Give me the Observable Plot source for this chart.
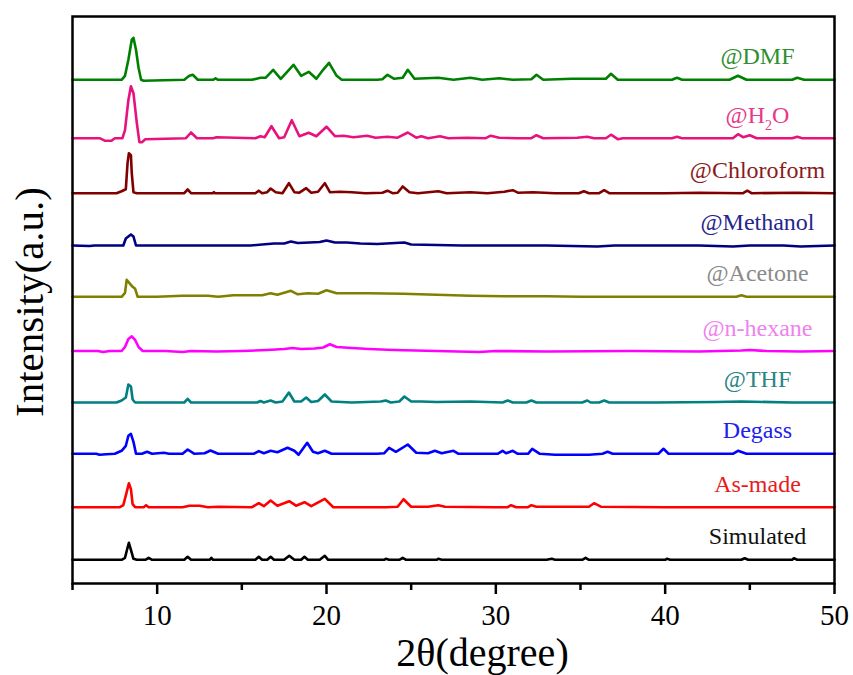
<!DOCTYPE html>
<html>
<head>
<meta charset="utf-8">
<script src="https://cdn.jsdelivr.net/npm/d3@7"></script>
<script src="https://cdn.jsdelivr.net/npm/@observablehq/plot@0.6"></script>
<style>
  html, body { margin: 0; padding: 0; background: #fff; }
  #chart { width: 853px; height: 675px; }
  #chart svg { overflow: visible; }
</style>
</head>
<body>
<div id="chart"></div>
<script>
// ---- Data: [2θ (degree), intensity above baseline (a.u.)] ----
const simulated = [[5,0],[7.9,0],[8.1,2],[8.25,12],[8.33,17],[8.45,10],[8.6,1],[8.8,0],[9.3,0],[9.5,2],[9.7,0],[11.6,0],[11.8,3],[12.0,0],[13.1,0],[13.2,2],[13.3,0],[15.8,0],[16.0,3],[16.2,0],[16.5,0],[16.7,3],[16.9,0],[17.5,0],[17.8,4],[18.1,0],[18.5,0],[18.7,3],[18.9,0],[19.6,0],[19.9,4],[20.1,0],[23.4,0],[23.5,1],[23.7,0],[24.3,0],[24.5,2],[24.7,0],[26.5,0],[26.6,1],[26.8,0],[33,0],[33.3,1],[33.5,0],[35.1,0],[35.3,2],[35.5,0],[40.0,0],[40.1,1],[40.3,0],[44.5,0],[44.7,1.5],[44.9,0],[47.5,0],[47.6,1.5],[47.8,0],[50,0]];

const asMade = [[5,0],[7.8,0],[8.0,2],[8.2,15],[8.33,24],[8.45,18],[8.55,3],[8.7,0],[9.2,0],[9.35,2],[9.5,0],[11.5,0],[11.9,1.5],[12.5,1.5],[13,0],[13.6,0.5],[15.6,0],[16.0,4],[16.3,1],[16.7,6.7],[17.1,1.5],[17.8,6],[18.2,1.5],[18.7,5],[19.1,1],[19.9,8.3],[20.4,0],[23.5,0],[24.2,0.5],[24.55,8],[25.0,0.5],[26.0,0.5],[26.6,2],[27,0.5],[30.0,0],[30.7,0],[30.9,2],[31.2,0],[31.9,0],[32.1,2],[32.4,0.5],[35.5,0.5],[35.8,4],[36.2,0.5],[40,0],[44,0],[50,0]];

const degass = [[5,0],[6.4,0],[6.6,-1],[7.0,-0.5],[7.5,0],[7.9,3],[8.15,8],[8.3,18],[8.45,20],[8.6,12],[8.75,0],[9.1,0],[9.4,2],[9.7,0],[10.4,1],[10.7,0],[11.5,0],[11.8,4.3],[12.2,0],[12.8,0.5],[13.15,3.3],[13.6,0],[15.7,0],[16.0,2.7],[16.3,0.5],[16.7,3],[17.1,1.5],[17.7,6],[18.1,3],[18.35,-1],[18.86,11],[19.2,2],[19.5,0.5],[19.9,3],[20.3,0],[23.0,0],[23.4,0.5],[23.7,6],[24.1,2],[24.8,9.3],[25.3,1],[26.0,0.5],[26.4,3],[26.8,0.5],[27.5,3],[27.8,0],[30.1,0],[30.4,3],[30.6,0.5],[31.0,3],[31.3,0],[31.9,0],[32.15,5],[32.6,0],[33.5,-1],[35.5,-1],[36.3,0],[36.6,2],[36.9,0],[39.6,0],[39.9,5],[40.2,0],[44.0,0],[44.3,3],[44.8,0],[50,0]];

const thf = [[5,0],[7.6,0],[7.9,2],[8.15,5],[8.3,18],[8.45,16],[8.55,3],[8.7,0],[11.6,0],[11.8,3.7],[12.0,0],[13.5,0],[15.9,0],[16.1,1.5],[16.3,0],[16.7,2],[17.0,0],[17.4,1],[17.78,10],[18.1,1],[18.5,1],[18.8,5],[19.1,0.5],[19.5,1.5],[19.9,8],[20.3,1],[21.5,0],[23.2,1],[23.5,2],[23.8,0],[24.3,1],[24.6,6],[25.0,1],[25.6,1],[26.5,0.5],[28.5,1],[30.4,0],[30.7,2],[31.0,0],[31.8,0],[32.1,2],[32.4,0],[35.1,0],[35.4,2],[35.6,0],[36.1,0],[36.4,2],[36.7,0],[39.4,0],[43,0.5],[44.5,1],[47.5,0],[50,0]];

const nHexane = [[5,0],[6.5,0],[6.8,-1],[7.2,0],[7.9,0],[8.1,4],[8.3,12],[8.5,14.7],[8.7,11],[8.9,4],[9.15,0],[10.5,0],[11.5,-1],[12,0],[13.5,-0.5],[15,0],[16.5,1],[17.5,2],[18,3],[18.5,2],[19.3,2.5],[19.8,3.5],[20.2,6.7],[20.6,4],[21.5,3],[22.5,2],[24,1],[26.5,0],[29,-1],[30,0],[33.0,-0.5],[38,0],[42,-0.5],[44.5,0.5],[45,1],[46,0],[48.0,-0.5],[50,0]];

const acetone = [[5,0],[7.9,0],[8.1,4],[8.2,17],[8.35,14],[8.55,10],[8.7,8],[8.85,0],[10.0,0],[11.5,1],[13.0,1],[13.6,0],[14.5,1.5],[16.2,1.5],[16.7,3.5],[17.1,2],[17.9,6],[18.3,2.5],[18.9,3.5],[19.5,3],[20.0,6.5],[20.6,3.5],[22.5,3.5],[24.5,3],[26.5,2],[28.5,1],[30.5,0.5],[33,0.5],[35,0],[44.2,0],[44.5,1.5],[44.8,0],[50,0]];

const methanol = [[5,0],[6.0,-0.5],[6.3,0],[8.0,0],[8.15,7],[8.3,9],[8.45,11],[8.6,9],[8.75,0],[10,0],[15.5,0],[16.2,1],[16.9,2],[17.5,2],[17.9,4],[18.3,2.5],[19.0,3],[19.6,3.5],[20.0,5],[20.5,3],[21.2,3],[22.0,2],[23.0,1.5],[24.6,3],[25.0,1],[26.5,0.5],[28.0,0],[33.0,0],[36.0,-1],[37.0,0],[42.0,0],[44.0,-1],[45.0,0],[47,0],[48,-1],[50,0]];

const chloroform = [[5,0],[7.6,0],[7.9,2],[8.15,4],[8.25,30],[8.33,40],[8.45,38],[8.5,20],[8.6,1],[8.8,0],[11.6,0],[11.8,3.7],[12.0,0],[13.3,0],[13.35,1],[13.4,0],[15.8,0],[16.0,2.5],[16.2,0],[16.5,1],[16.7,4.7],[17.0,1],[17.4,0],[17.78,10],[18.1,1],[18.4,0.5],[18.8,5],[19.1,0.5],[19.5,1.5],[19.9,10],[20.2,1],[20.8,1.5],[21.5,1],[22.3,0],[23.3,0.5],[23.6,2.5],[23.9,0],[24.2,0.5],[24.5,6.7],[24.9,1],[25.4,0],[26.0,1],[26.6,2],[27.1,0],[28.5,1],[29.5,0],[30.5,1.5],[31.0,3],[31.3,0.5],[32.2,1],[33.5,0],[34.9,0],[35.2,2],[35.5,0],[36.1,0],[36.4,3],[36.7,0],[40,0],[42.0,0.5],[44.6,0],[44.85,2.5],[45.1,0],[47.8,0.5],[50,0]];

const water = [[5,0],[6.6,0],[6.9,-2.5],[7.3,-2.5],[7.5,0],[7.95,0],[8.1,8],[8.3,38],[8.45,52],[8.6,45],[8.8,15],[8.95,-4],[9.1,-4],[9.3,-1],[11.7,0],[12.0,5.7],[12.35,0],[13.3,0],[13.5,1],[15.8,0],[16.1,2],[16.35,1],[16.75,12],[17.2,0],[17.5,1],[17.95,18],[18.4,2],[18.95,5.5],[19.4,2],[20.0,11.5],[20.5,2],[21.0,2.5],[21.6,1],[22.4,2.5],[22.9,0.5],[23.6,1.5],[24.2,0.5],[24.8,5.7],[25.3,0.5],[25.6,2],[26.0,0],[26.7,2],[27.2,0],[28.3,0.5],[29.4,0],[29.7,2.5],[30.2,0.5],[31.3,0],[32.1,0],[32.4,3],[32.8,0],[34.8,0.5],[35.4,1.5],[35.8,0],[36.5,0],[36.8,3.5],[37.2,-1],[37.5,0],[40.4,0],[40.7,1.5],[41.0,0],[44.0,0],[44.3,4],[44.6,1],[45.0,3],[45.4,0],[47.5,0],[47.8,1.5],[48.1,0],[50,0]];

const dmf = [[5,0],[7.9,0],[8.1,4],[8.3,20],[8.5,40],[8.6,42],[8.75,30],[8.9,12],[9.05,0],[9.2,-1],[11.6,0],[11.9,4],[12.1,5],[12.4,0],[13.3,0],[13.45,1.5],[13.6,0],[15.6,0],[16.1,2],[16.4,2],[16.85,10],[17.3,1],[18.05,15],[18.5,4],[18.95,8],[19.4,1],[19.8,10],[20.15,17],[20.6,4],[20.9,0],[23.0,0],[23.3,0.5],[23.6,5],[24.0,1],[24.5,2],[24.8,10],[25.2,1],[26.6,2],[27.5,0],[28.5,2],[29.2,0],[30.2,1.5],[31.0,0],[32.1,0.5],[32.4,5],[32.8,0],[34.5,1],[36.5,1],[36.8,6],[37.2,0],[40.4,0],[40.7,2],[41.0,0],[43.8,0],[44.3,4],[44.8,0],[47.5,0],[47.8,2],[48.2,0],[50,0]];

// series order (bottom to top), labels and vertical offsets (a.u.)
const patterns = [simulated, asMade, degass, thf, nHexane, acetone, methanol, chloroform, water, dmf];
const labels   = ["Simulated", "As-made", "Degass", "@THF", "@n-hexane", "@Acetone", "@Methanol", "@Chloroform", "@H2O", "@DMF"];
const offsets  = [23.7, 76.3, 129.7, 181, 232.5, 286.7, 338, 390.3, 445.3, 503.7];
const xTicks = [10, 20, 30, 40, 50];
const xMinorTicks = [5, 15, 25, 35, 45];

// styles
const lineColors  = ["#000000", "#ff0000", "#0000ff", "#008080", "#ff00ff", "#808000", "#000080", "#800000", "#e8127f", "#008000"];
const labelColors = ["#111111", "#e81c1c", "#2020ee", "#2a8585", "#ee82ee", "#8a8a8a", "#26268c", "#8b1a1a", "#e8388a", "#2f8f2f"];

const rows = patterns.flatMap((pts, i) =>
  pts.map(([x, h]) => ({name: labels[i], x, y: offsets[i] + h, color: lineColors[i]}))
);
const labelRows = labels.map((name, i) => ({name, y: offsets[i] + 15.5, color: labelColors[i]}));

const chart = Plot.plot({
  width: 853,
  height: 675,
  marginTop: 16,
  marginBottom: 92,
  marginLeft: 72,
  marginRight: 19,
  style: {fontFamily: "'Liberation Serif', 'Times New Roman', serif", background: "#fff", color: "#000"},
  x: {domain: [5, 50]},
  y: {domain: [0, 567], axis: null},
  color: {type: "identity"},
  marks: [
    Plot.line(rows, {x: "x", y: "y", z: "name", stroke: "color", strokeWidth: 2.6, strokeLinejoin: "round"}),
    Plot.text(labelRows, {frameAnchor: "right", dx: -77, y: "y", text: "name", fill: "color", fontSize: 24, textAnchor: "middle", lineAnchor: "bottom"}),
    Plot.frame({stroke: "#000", strokeWidth: 2.5}),
    Plot.axisX({ticks: xTicks, tickSize: 11, tickPadding: 10, fontSize: 29, strokeWidth: 2.5, label: null}),
    Plot.axisX({ticks: xMinorTicks, tickSize: 7, text: null, strokeWidth: 2.5, label: null}),
    Plot.text(["2θ(degree)"], {frameAnchor: "bottom", dx: 29, dy: 70, fontSize: 40, lineAnchor: "middle", textAnchor: "middle"}),
    Plot.text(["Intensity(a.u.)"], {frameAnchor: "left", dx: -43, dy: 2, rotate: -90, fontSize: 41, lineAnchor: "middle", textAnchor: "middle"})
  ]
});

// subscript for H2O
const ns = "http://www.w3.org/2000/svg";
chart.querySelectorAll("text").forEach(t => {
  if (t.textContent === "@H2O") {
    t.textContent = "@H";
    const sub = document.createElementNS(ns, "tspan");
    sub.textContent = "2";
    sub.setAttribute("font-size", "14");
    sub.setAttribute("dy", "7");
    t.appendChild(sub);
    const o = document.createElementNS(ns, "tspan");
    o.textContent = "O";
    o.setAttribute("dy", "-7");
    t.appendChild(o);
  }
});

document.getElementById("chart").appendChild(chart);
</script>
</body>
</html>
